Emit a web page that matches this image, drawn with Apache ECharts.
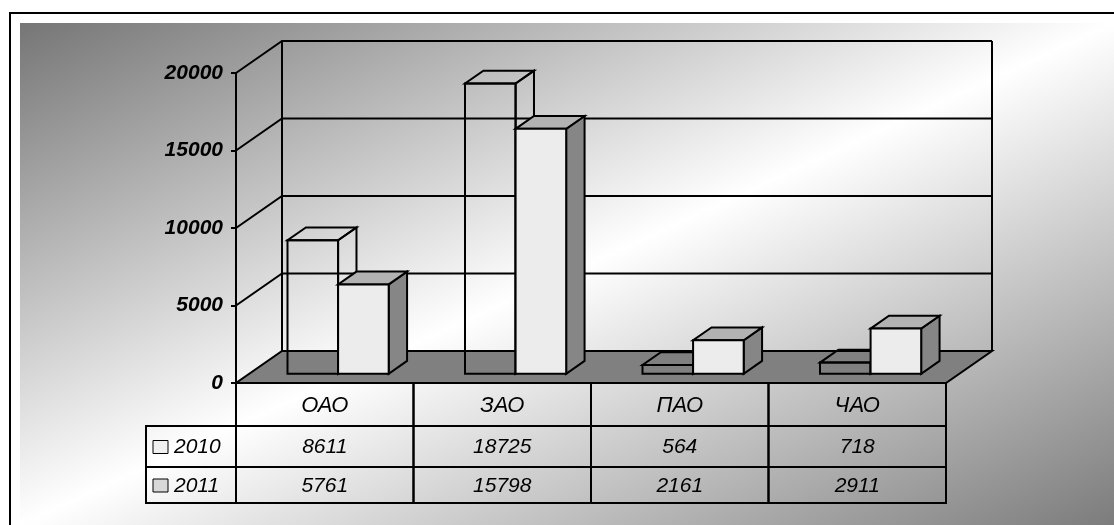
<!DOCTYPE html>
<html>
<head>
<meta charset="utf-8">
<script src="https://cdn.jsdelivr.net/npm/echarts@6/dist/echarts.min.js"></script>
<style>
  html, body { margin: 0; padding: 0; background: #fff; }
  #chart { width: 1114px; height: 525px; }
</style>
</head>
<body>
<div id="chart"></div>
<script>
// данные
var categories = ['ОАО', 'ЗАО', 'ПАО', 'ЧАО'];
var years = ['2010', '2011'];
var values2010 = [8611, 18725, 564, 718];
var values2011 = [5761, 15798, 2161, 2911];
var yTicks = [0, 5000, 10000, 15000, 20000];

(function() {
    var myChart = echarts.init(document.getElementById('chart'));

    // смещение глубины (псевдо-3D)
    var DX = 46, DY = -32;
    var Z0 = 0.29, Z1 = 0.69;
    var BAR_RATIO = 0.285;
    var FAMILY = '"Liberation Sans", Arial, sans-serif';
    var rows = [0, 43, 84, 120];
    var LEGEND_W = 90;

    function txt(s, x, y, align, size) {
        return {
            type: 'text', x: x, y: y,
            style: {
                text: s, fill: '#000', fontSize: size || 21, fontStyle: 'italic', fontFamily: FAMILY,
                align: align, verticalAlign: 'middle'
            }
        };
    }

    // пол и рёбра стен
    function renderFrame(params, api) {
        var cs = params.coordSys;
        var x = cs.x, xr = cs.x + cs.width;
        var y0 = api.coord([0, yTicks[0]])[1];
        var yTop = api.coord([0, yTicks[yTicks.length - 1]])[1];
        var line = { stroke: '#000', lineWidth: 2, fill: null };
        return {
            type: 'group',
            children: [
                { type: 'polygon', shape: { points: [[x, y0], [xr, y0], [xr + DX, y0 + DY], [x + DX, y0 + DY]] },
                  style: { fill: '#808080', stroke: '#000', lineWidth: 2 } },
                { type: 'line', shape: { x1: x + DX, y1: yTop + DY, x2: x + DX, y2: y0 + DY }, style: line },
                { type: 'line', shape: { x1: xr + DX, y1: yTop + DY, x2: xr + DX, y2: y0 + DY }, style: line }
            ]
        };
    }

    // линии сетки на левой и задней стенках
    function renderGridLine(params, api) {
        var cs = params.coordSys;
        var x = cs.x, xr = cs.x + cs.width;
        var y = api.coord([0, api.value(1)])[1];
        return {
            type: 'polyline',
            shape: { points: [[x, y], [x + DX, y + DY], [xr + DX, y + DY]] },
            style: { stroke: '#000', lineWidth: 2, fill: null }
        };
    }

    // столбики-параллелепипеды
    function boxRenderer(side, fills) {
        return function(params, api) {
            var i = api.value(0), v = api.value(1);
            var base = api.coord([i, 0]);
            var top = api.coord([i, v]);
            var band = api.size([1, 0])[0];
            var w = band * BAR_RATIO;
            var x0 = (side < 0 ? base[0] - w : base[0]) + DX * Z0;
            var yb = base[1] + DY * Z0;
            var yt = top[1] + DY * Z0;
            var dx = DX * (Z1 - Z0), dy = DY * (Z1 - Z0);
            return {
                type: 'group',
                children: [
                    { type: 'polygon', shape: { points: [[x0 + w, yt], [x0 + w + dx, yt + dy], [x0 + w + dx, yb + dy], [x0 + w, yb]] },
                      style: { fill: fills[2], stroke: '#000', lineWidth: 2 } },
                    { type: 'polygon', shape: { points: [[x0, yt], [x0 + w, yt], [x0 + w + dx, yt + dy], [x0 + dx, yt + dy]] },
                      style: { fill: fills[1], stroke: '#000', lineWidth: 2 } },
                    { type: 'rect', shape: { x: x0, y: yt, width: w, height: yb - yt },
                      style: { fill: fills[0], stroke: '#000', lineWidth: 2 } }
                ]
            };
        };
    }

    // таблица данных под графиком
    function renderTable(params, api) {
        var cs = params.coordSys;
        var i = api.value(0);
        var band = api.size([1, 0])[0];
        var cx = api.coord([i, 0])[0];
        var x0 = cx - band / 2;
        var y0 = cs.y + cs.height;
        var texts = [categories[i], String(values2010[i]), String(values2011[i])];
        var children = [];
        for (var r = 0; r < 3; r++) {
            children.push({ type: 'rect', shape: { x: x0, y: y0 + rows[r], width: band, height: rows[r + 1] - rows[r] },
                style: { fill: null, stroke: '#000', lineWidth: 2 } });
            children.push(txt(texts[r], cx, y0 + (rows[r] + rows[r + 1]) / 2 + 1, 'center', r === 0 ? 22 : 21));
        }
        if (i === 0) {
            var keyFill = ['#f0f0f0', '#d8d8d8'];
            for (var k = 0; k < 2; k++) {
                var ra = rows[k + 1], rb = rows[k + 2];
                var cy = y0 + (ra + rb) / 2;
                children.push({ type: 'rect', shape: { x: x0 - LEGEND_W, y: y0 + ra, width: LEGEND_W, height: rb - ra },
                    style: { fill: null, stroke: '#000', lineWidth: 2 } });
                children.push({ type: 'rect', shape: { x: x0 - LEGEND_W + 7, y: cy - 6, width: 15, height: 13 },
                    style: { fill: keyFill[k], stroke: '#000', lineWidth: 1 } });
                children.push(txt(years[k], x0 - LEGEND_W + 28, cy + 1, 'left'));
            }
        }
        return { type: 'group', children: children };
    }

    var option = {
        animation: false,
        graphic: [
            { type: 'rect', z: -10, shape: { x: 20, y: 23, width: 1100, height: 510 },
              style: { fill: new echarts.graphic.LinearGradient(377, -140, 757, 688, [
                  { offset: 0, color: '#767676' },
                  { offset: 0.5, color: '#ffffff' },
                  { offset: 1, color: '#7c7c7c' }
              ], true) } },
            { type: 'rect', z: -9, shape: { x: 10, y: 13, width: 1200, height: 600 },
              style: { fill: null, stroke: '#000', lineWidth: 2 } }
        ],
        grid: { left: 236, top: 73, width: 710, height: 310 },
        xAxis: {
            type: 'category',
            data: categories,
            axisLine: { show: false },
            axisTick: { show: false },
            axisLabel: { show: false }
        },
        yAxis: {
            type: 'value',
            min: 0,
            max: 20000,
            interval: 5000,
            axisLine: { show: true, lineStyle: { color: '#000', width: 2 } },
            axisTick: { show: true, length: 5, lineStyle: { color: '#000', width: 2 } },
            splitLine: { show: false },
            axisLabel: {
                margin: 13,
                color: '#000',
                fontSize: 21,
                fontWeight: 'bold',
                fontStyle: 'italic',
                fontFamily: FAMILY,
                formatter: function(v) { return String(v); }
            }
        },
        series: [
            { type: 'custom', name: 'frame', renderItem: renderFrame, data: [[0, 0]], silent: true },
            { type: 'custom', name: 'grid', renderItem: renderGridLine,
              data: yTicks.slice(1).map(function(v) { return [0, v]; }), silent: true },
            { type: 'custom', name: 'table', renderItem: renderTable,
              data: categories.map(function(c, i) { return [i, 0]; }), silent: true },
            { type: 'custom', name: years[0], renderItem: boxRenderer(-1, ['transparent', 'transparent', 'transparent']),
              data: values2010.map(function(v, i) { return [i, v]; }) },
            { type: 'custom', name: years[1], renderItem: boxRenderer(1, ['#ececec', '#b2b2b2', '#868686']),
              data: values2011.map(function(v, i) { return [i, v]; }) }
        ]
    };
    myChart.setOption(option);
})();
</script>
</body>
</html>
